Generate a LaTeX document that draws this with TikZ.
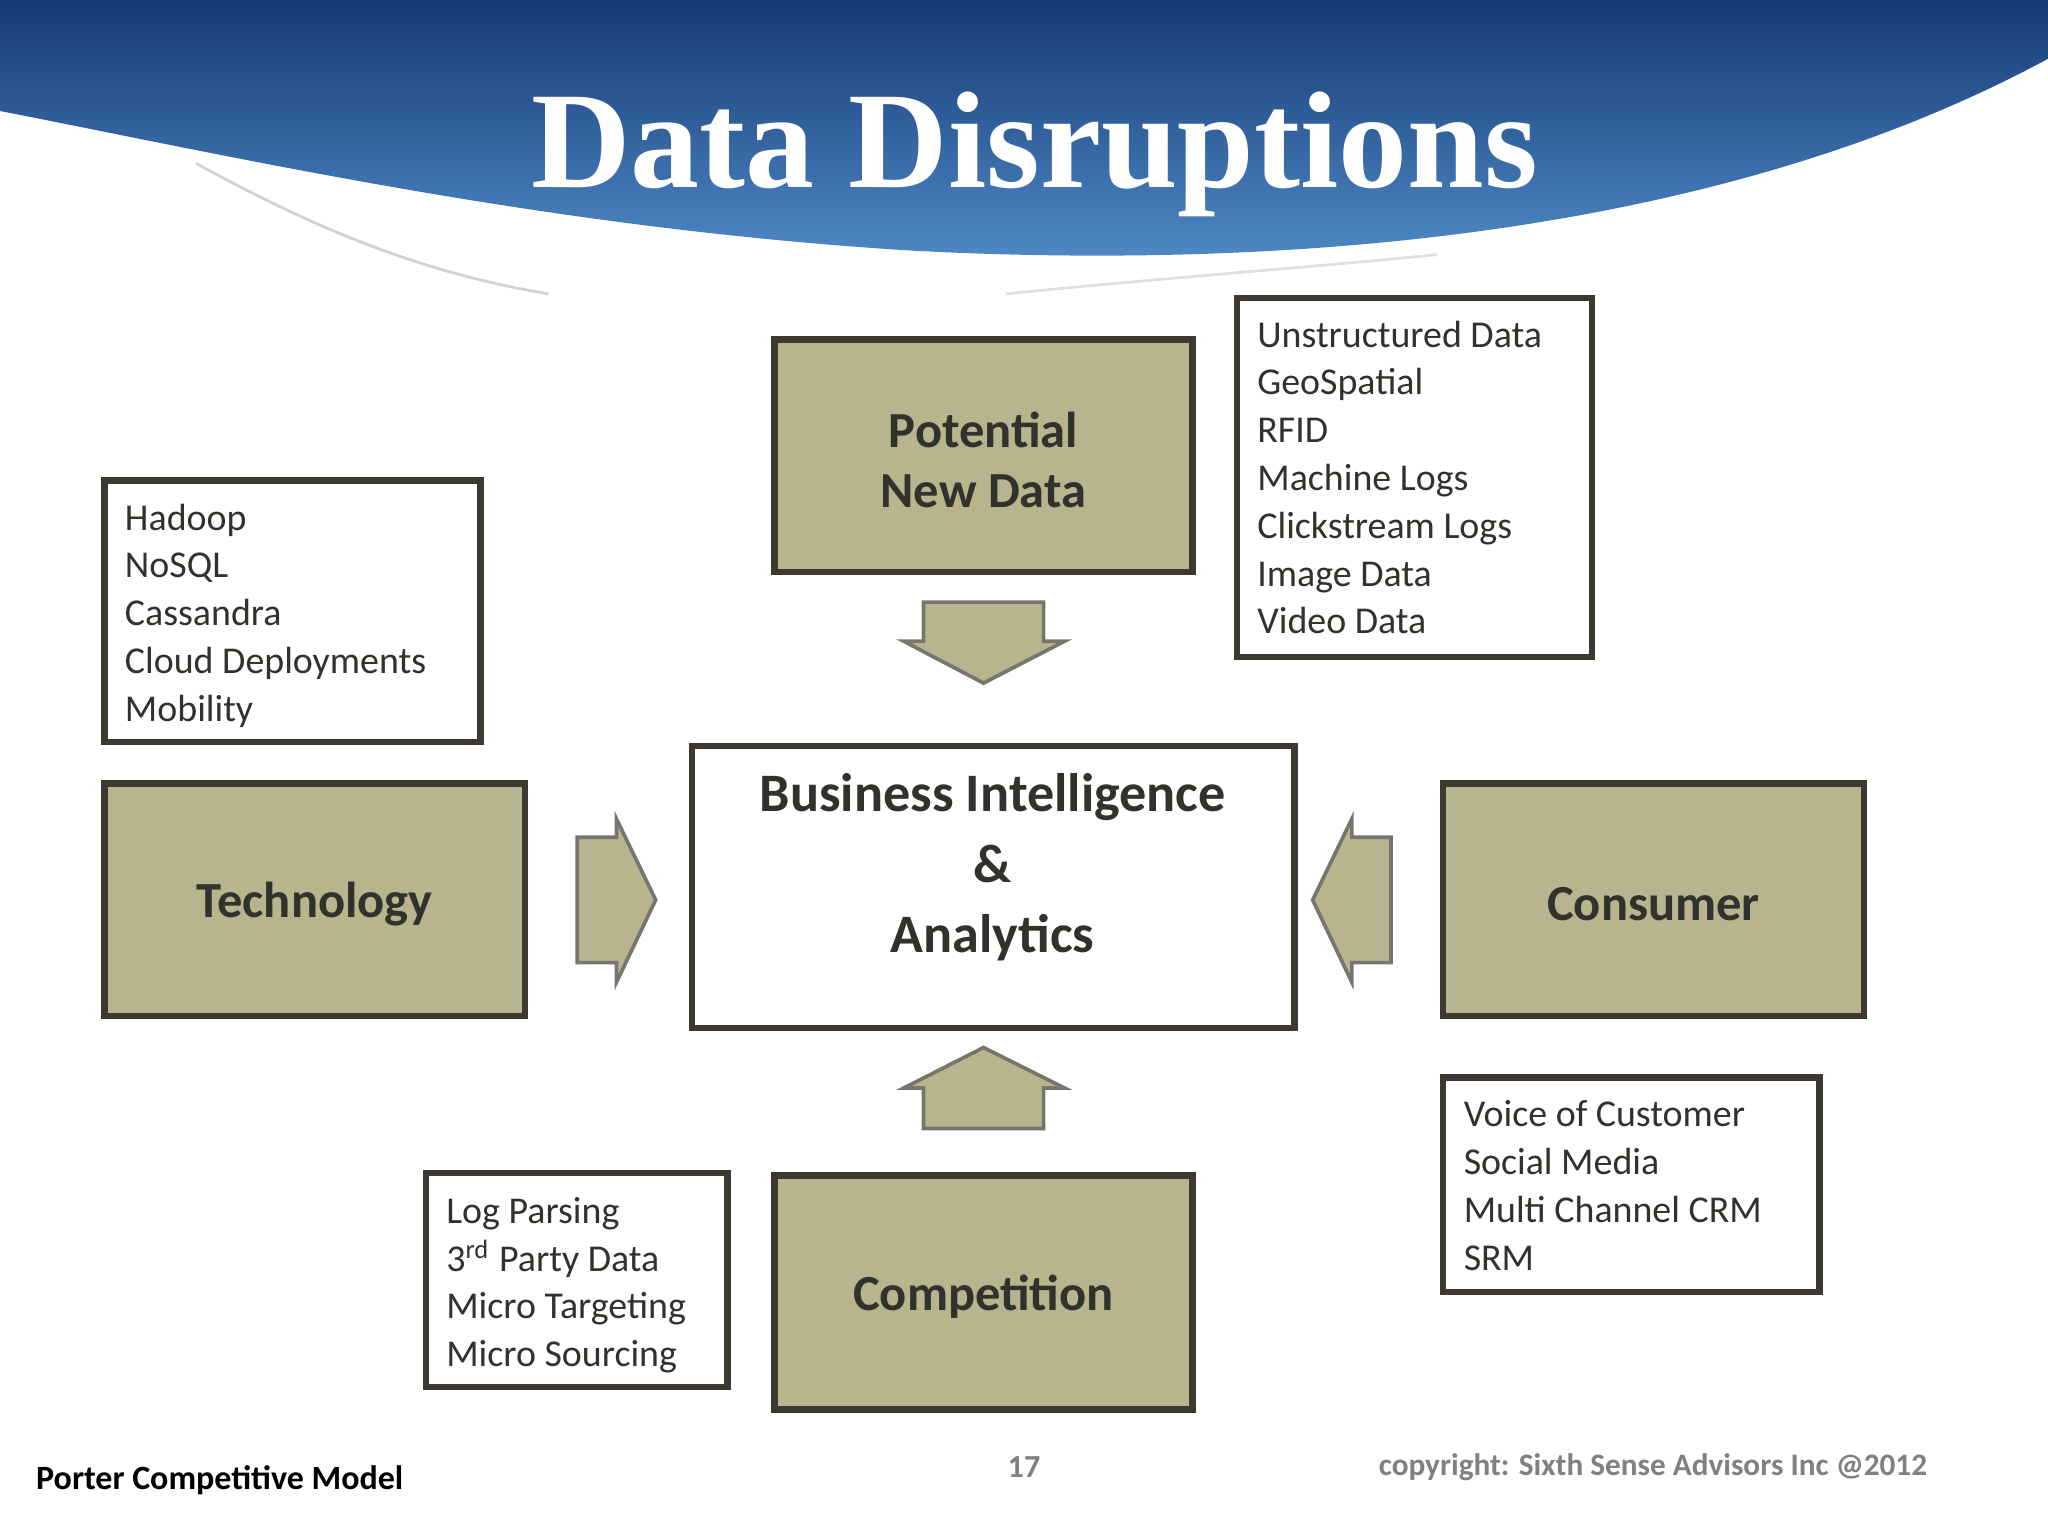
\documentclass[tikz,border=0pt]{standalone}
\usepackage{fontspec}
\setmainfont{Carlito}
\newfontfamily\titlefont{Liberation Serif}
\definecolor{olive}{RGB}{183,180,142}
\definecolor{edge}{RGB}{60,58,48}
\definecolor{txt}{RGB}{50,50,45}
\definecolor{bluetop}{RGB}{22,58,118}
\definecolor{bluebot}{RGB}{80,140,200}
\tikzset{
 bigbox/.style={draw=edge,line width=1.4pt,fill=olive},
 listbox/.style={draw=edge,line width=1.4pt,fill=white},
 blabel/.style={font=\fontsize{11}{13}\selectfont\bfseries,text=txt,align=center},
 ltext/.style={font=\fontsize{8.25}{10.4}\selectfont,text=txt,align=left,anchor=north west,inner sep=0pt},
 arr/.style={draw=edge!70,line width=0.8pt,fill=olive},
}
\begin{document}
\begin{tikzpicture}[x=0.01cm,y=-0.01cm]
\useasboundingbox (0,0) rectangle (1568,1176);
% header
\shade[top color=bluetop,bottom color=bluebot] (0,0)--(1568,0)--(1568,45) .. controls (1300,190) and (950,205) .. (700,192) .. controls (420,175) and (180,120) .. (0,85)--cycle;
\draw[gray!35,line width=0.6pt] (150,125) .. controls (250,180) and (330,210) .. (420,225);
\draw[gray!25,line width=0.6pt] (770,225) .. controls (900,212) and (1000,205) .. (1100,195);
\node[font=\titlefont\fontsize{30}{30}\selectfont\bfseries,text=white] (title) at (792,118) {Data Disruptions};
% boxes
\draw[bigbox] (593,260) rectangle (913,438);
\node[blabel] (pnd) at (753,352) {Potential\\New Data};
\draw[listbox] (947,228) rectangle (1219,503);
\node[ltext] (l1) at (962,245) {Unstructured Data\\GeoSpatial\\RFID\\Machine Logs\\Clickstream Logs\\Image Data\\Video Data};
\draw[listbox] (80,368) rectangle (368,568);
\node[ltext] (l2) at (95,385) {Hadoop\\NoSQL\\Cassandra\\Cloud Deployments\\Mobility};
\draw[bigbox] (80,600) rectangle (402,778);
\node[blabel] (tech) at (241,692) {Technology};
\draw[listbox] (530,571) rectangle (991,787);
\node[font=\fontsize{11.8}{15.3}\selectfont\bfseries,text=txt,align=center] (bi) at (760,664) {Business Intelligence\\\&\\Analytics};
\draw[bigbox] (1105,600) rectangle (1427,778);
\node[blabel] (cons) at (1266,692) {Consumer};
\draw[listbox] (1105,825) rectangle (1393,989);
\node[ltext] (l3) at (1120,842) {Voice of Customer\\Social Media\\Multi Channel CRM\\SRM};
\draw[listbox] (326,898) rectangle (557,1062);
\node[ltext] (l4) at (341,916) {Log Parsing\\3\textsuperscript{rd} Party Data\\Micro Targeting\\Micro Sourcing};
\draw[bigbox] (593,900) rectangle (913,1079);
\node[blabel] (comp) at (753,993) {Competition};
% arrows
\draw[arr] (707,461)--(799,461)--(799,491)--(815,491)--(753,523)--(692,491)--(707,491)--cycle;
\draw[arr] (707,864)--(799,864)--(799,833)--(815,833)--(753,802)--(692,833)--(707,833)--cycle;
\draw[arr] (442,641)--(472,641)--(472,627)--(502,689)--(472,752)--(472,737)--(442,737)--cycle;
\draw[arr] (1065,641)--(1035,641)--(1035,627)--(1005,689)--(1035,752)--(1035,737)--(1065,737)--cycle;
% footer
\node[anchor=west,inner sep=0pt,font=\fontsize{7.4}{9}\selectfont\bfseries] (f1) at (27,1133) {Porter Competitive Model};
\node[font=\fontsize{7}{9}\selectfont\bfseries,text=gray] (f2) at (784,1123) {17};
\node[anchor=west,inner sep=0pt,font=\fontsize{6.8}{9}\selectfont\bfseries,text=gray] (f3) at (1055,1123) {copyright: Sixth Sense Advisors Inc @2012};
\end{tikzpicture}
\end{document}
